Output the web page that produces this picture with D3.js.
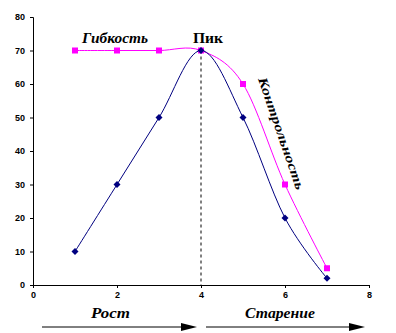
<!DOCTYPE html>
<html><head><meta charset="utf-8">
<script src="https://cdn.jsdelivr.net/npm/d3@7"></script>
<style>body{margin:0;background:#fff}svg{display:block}</style>
</head><body>
<script>
const xs = [1,2,3,4,5,6,7];
const growth = [10,30,50,70,50,20,2];
const flex = [70,70,70,70,60,30,5];
const xTicks = [0,2,4,6,8];
const yTicks = [0,10,20,30,40,50,60,70,80];
const peakX = 4, peakY = 70;

const W=396,H=333;
const svg=d3.select("body").append("svg").attr("width",W).attr("height",H);
const x=d3.scaleLinear().domain([0,8]).range([33,369]);
const y=d3.scaleLinear().domain([0,80]).range([285,17]);

const axisFont="'Liberation Sans', Arial, sans-serif";
const ya=svg.append("g").attr("transform","translate(33,0)")
  .call(d3.axisLeft(y).tickValues(yTicks).tickSize(3).tickPadding(5).tickFormat(d3.format("d")));
const xa=svg.append("g").attr("transform","translate(0,285)")
  .call(d3.axisBottom(x).tickValues(xTicks).tickSize(3).tickPadding(4).tickFormat(d3.format("d")));
[ya,xa].forEach(a=>{
  a.select(".domain").attr("stroke","#000").attr("stroke-width",1);
  a.selectAll(".tick line").attr("stroke","#000");
  a.selectAll("text").attr("font-family",axisFont).attr("font-size",9).attr("font-weight","bold").attr("fill","#000");
});

svg.append("line").attr("x1",x(peakX)).attr("x2",x(peakX)).attr("y1",y(peakY)).attr("y2",y(0))
  .attr("stroke","#000").attr("stroke-dasharray","3,3").attr("stroke-width",1);

const line=d3.line().x(d=>x(d[0])).y(d=>y(d[1])).curve(d3.curveCardinal.tension(0));
const gData=xs.map((v,i)=>[v,growth[i]]);
const fData=xs.map((v,i)=>[v,flex[i]]);

svg.append("path").datum(fData).attr("d",line).attr("fill","none").attr("stroke","#FF00FF").attr("stroke-width",1);
svg.append("path").datum(gData).attr("d",line).attr("fill","none").attr("stroke","#000080").attr("stroke-width",1);

svg.selectAll(".sq").data(fData).enter().append("rect")
  .attr("x",d=>x(d[0])-3).attr("y",d=>y(d[1])-3).attr("width",6).attr("height",6).attr("fill","#FF00FF");
svg.selectAll(".dm").data(gData).enter().append("path")
  .attr("d","M0,-3.5L3.5,0L0,3.5L-3.5,0Z").attr("transform",d=>`translate(${x(d[0])},${y(d[1])})`).attr("fill","#000080");

const serif="'Liberation Serif', 'DejaVu Serif', serif";
function txt(xx,yy,s,opts){
  const t=svg.append("text").attr("x",xx).attr("y",yy).text(s)
    .attr("font-family",serif).attr("font-size",opts.size||14).attr("font-weight","bold");
  if(opts.italic) t.attr("font-style","italic");
  if(opts.len) t.attr("textLength",opts.len).attr("lengthAdjust","spacingAndGlyphs");
  if(opts.rot) t.attr("transform",`rotate(${opts.rot},${xx},${yy})`);
  return t;
}
txt(82,43,"Гибкость",{italic:true,len:66});
txt(193,43,"Пик",{len:30});
txt(258,79,"Контрольность",{italic:true,size:13,len:118,rot:71});
txt(91,318,"Рост",{italic:true,len:39});
txt(245,318,"Старение",{italic:true,len:70});

[[42,197],[206,365]].forEach(([a,b])=>{
  svg.append("line").attr("x1",a).attr("x2",b-10).attr("y1",327).attr("y2",327).attr("stroke","#000").attr("stroke-width",1);
  svg.append("path").attr("d",`M${b-16},323L${b},327L${b-16},331Z`).attr("fill","#000");
});
</script>
</body></html>
